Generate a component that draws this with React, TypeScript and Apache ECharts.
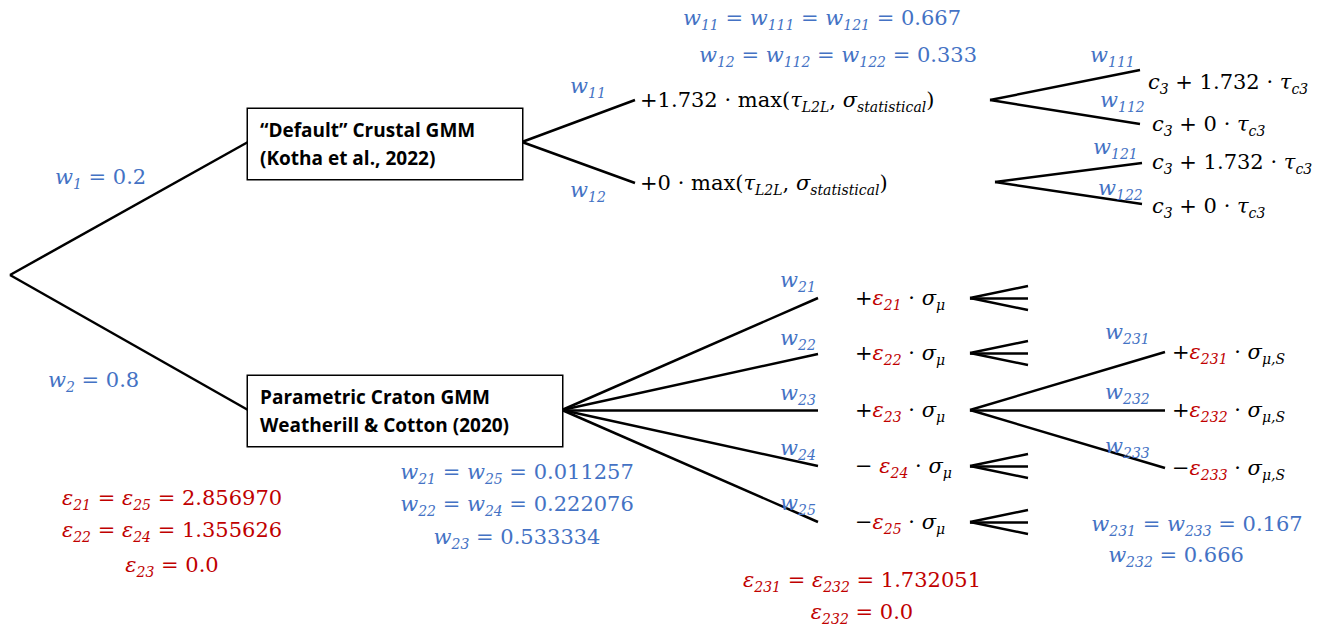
import React, { useEffect, useRef } from 'react';
import * as echarts from 'echarts';

const BLUE = '#4472C4';
const RED = '#C00000';
const BLACK = '#000000';

// branch segments [x1, y1, x2, y2]
const branches = [
  [10, 275, 248, 142], [10, 275, 248, 410],
  [522, 142, 635, 100], [522, 142, 635, 183],
  [990, 100, 1140, 70], [990, 100, 1140, 124],
  [995, 182, 1142, 163], [995, 182, 1142, 204],
  [562, 410, 818, 298], [562, 410, 818, 354], [562, 410, 818, 410],
  [562, 410, 818, 466], [562, 410, 818, 522],
  [970, 410, 1165, 352], [970, 410, 1165, 410], [970, 410, 1165, 468],
];
// small collapsed forks: tip y positions
const smallForks = [298, 353, 466, 522];
const smallDy = [-12, 0, 12];

// [x, y, text, colour, align]
const labels: [number, number, string, string, string][] = [
  [822, 18, 'w_{11} = w_{111} = w_{121} = 0.667', BLUE, 'center'],
  [838, 55, 'w_{12} = w_{112} = w_{122} = 0.333', BLUE, 'center'],
  [55, 177, 'w_{1} = 0.2', BLUE, 'left'],
  [48, 380, 'w_{2} = 0.8', BLUE, 'left'],
  [570, 86, 'w_{11}', BLUE, 'left'],
  [570, 190, 'w_{12}', BLUE, 'left'],
  [640, 100, '+1.732 · `max`(τ_{L2L}, σ_{statistical})', BLACK, 'left'],
  [640, 183, '+0 · `max`(τ_{L2L}, σ_{statistical})', BLACK, 'left'],
  [1090, 55, 'w_{111}', BLUE, 'left'],
  [1100, 100, 'w_{112}', BLUE, 'left'],
  [1093, 147, 'w_{121}', BLUE, 'left'],
  [1098, 188, 'w_{122}', BLUE, 'left'],
  [1148, 82, 'c_{3} + 1.732 · τ_{c3}', BLACK, 'left'],
  [1152, 124, 'c_{3} + 0 · τ_{c3}', BLACK, 'left'],
  [1152, 162, 'c_{3} + 1.732 · τ_{c3}', BLACK, 'left'],
  [1152, 206, 'c_{3} + 0 · τ_{c3}', BLACK, 'left'],
  [780, 280, 'w_{21}', BLUE, 'left'],
  [780, 338, 'w_{22}', BLUE, 'left'],
  [780, 393, 'w_{23}', BLUE, 'left'],
  [780, 448, 'w_{24}', BLUE, 'left'],
  [780, 503, 'w_{25}', BLUE, 'left'],
  [1105, 332, 'w_{231}', BLUE, 'left'],
  [1105, 392, 'w_{232}', BLUE, 'left'],
  [1105, 446, 'w_{233}', BLUE, 'left'],
  [172, 498, 'ε_{21} = ε_{25} = 2.856970', RED, 'center'],
  [172, 530, 'ε_{22} = ε_{24} = 1.355626', RED, 'center'],
  [172, 565, 'ε_{23} = 0.0', RED, 'center'],
  [517, 472, 'w_{21} = w_{25} = 0.011257', BLUE, 'center'],
  [517, 504, 'w_{22} = w_{24} = 0.222076', BLUE, 'center'],
  [517, 537, 'w_{23} = 0.533334', BLUE, 'center'],
  [862, 580, 'ε_{231} = ε_{232} = 1.732051', RED, 'center'],
  [862, 612, 'ε_{232} = 0.0', RED, 'center'],
  [1197, 524, 'w_{231} = w_{233} = 0.167', BLUE, 'center'],
  [1176, 555, 'w_{232} = 0.666', BLUE, 'center'],
];

// split-colour labels: [x, y, [[text, colour], ...]]
const mixed: [number, number, [string, string][]][] = [
  [855, 298, [['+', BLACK], ['ε_{21}', RED], [' · σ_{μ}', BLACK]]],
  [855, 353, [['+', BLACK], ['ε_{22}', RED], [' · σ_{μ}', BLACK]]],
  [855, 410, [['+', BLACK], ['ε_{23}', RED], [' · σ_{μ}', BLACK]]],
  [855, 466, [['− ', BLACK], ['ε_{24}', RED], [' · σ_{μ}', BLACK]]],
  [855, 522, [['−', BLACK], ['ε_{25}', RED], [' · σ_{μ}', BLACK]]],
  [1172, 352, [['+', BLACK], ['ε_{231}', RED], [' · σ_{μ,S}', BLACK]]],
  [1172, 410, [['+', BLACK], ['ε_{232}', RED], [' · σ_{μ,S}', BLACK]]],
  [1172, 468, [['−', BLACK], ['ε_{233}', RED], [' · σ_{μ,S}', BLACK]]],
];

// [x, y, text, width]
const boxes: [number, number, string, number][] = [
  [248, 144, '“Default” Crustal GMM\n(Kotha et al., 2022)', 250],
  [248, 411, 'Parametric Craton GMM\nWeatherill & Cotton (2020)', 290],
];

const colorKey: Record<string, string> = { [BLUE]: 'b', [RED]: 'r', [BLACK]: 'k' };

function toRich(str: string, color: string): string {
  const c = colorKey[color];
  let out = '';
  let i = 0;
  let buf = '';
  let type = '';
  const flush = () => { if (buf) out += `{${type}${c}|${buf}}`; buf = ''; };
  const push = (t: string, ch: string) => { if (t !== type) { flush(); type = t; } buf += ch; };
  while (i < str.length) {
    const ch = str[i];
    if (ch === '_' && str[i + 1] === '{') {
      const end = str.indexOf('}', i);
      flush();
      out += `{s${c}|${str.slice(i + 2, end)}}`;
      type = '';
      i = end + 1;
    } else if (ch === '`') {
      const end = str.indexOf('`', i + 1);
      flush();
      out += `{n${c}|${str.slice(i + 1, end)}}`;
      type = '';
      i = end + 1;
    } else {
      push(/[A-Za-zα-ωε]/.test(ch) ? 'i' : 'n', ch);
      i++;
    }
  }
  flush();
  return out;
}

const MATH = "'DejaVu Serif', 'Liberation Serif', serif";
const rich: Record<string, any> = {};
[[BLUE, 'b'], [RED, 'r'], [BLACK, 'k']].forEach(([col, k]) => {
  rich['n' + k] = { color: col, fontFamily: MATH, fontSize: 21, lineHeight: 30 };
  rich['i' + k] = { color: col, fontFamily: MATH, fontSize: 21, fontStyle: 'italic', lineHeight: 30 };
  rich['s' + k] = { color: col, fontFamily: MATH, fontSize: 14, fontStyle: 'italic', lineHeight: 30, padding: [14, 0, 0, 0] };
});

const App = () => {
  const chartRef = useRef<HTMLDivElement>(null);

  useEffect(() => {
    if (!chartRef.current) return;
    const chart = echarts.init(chartRef.current, null, { renderer: 'svg' });

    const segs = [...branches];
    smallForks.forEach((y) => smallDy.forEach((d) => segs.push([970, y, 1028, y + d])));

    const textData = [
      ...labels.map(([x, y, s, col, align]) => ({
        value: [x, y],
        label: { formatter: toRich(s, col), align },
      })),
      ...mixed.map(([x, y, parts]) => ({
        value: [x, y],
        label: { formatter: parts.map(([s, col]) => toRich(s, col)).join(''), align: 'left' },
      })),
    ];

    chart.setOption({
      animation: false,
      grid: { left: 0, right: 0, top: 0, bottom: 0 },
      xAxis: { type: 'value', min: 0, max: 1337, show: false },
      yAxis: { type: 'value', min: 0, max: 629, inverse: true, show: false },
      series: [
        {
          type: 'lines',
          coordinateSystem: 'cartesian2d',
          lineStyle: { color: '#000', width: 2.5, opacity: 1 },
          data: segs.map(([a, b, c, d]) => ({ coords: [[a, b], [c, d]] })),
          z: 1,
        },
        {
          type: 'scatter',
          symbolSize: 0,
          itemStyle: { opacity: 1 },
          data: textData,
          label: { show: true, position: 'inside', verticalAlign: 'middle', rich },
          z: 3,
        },
        {
          type: 'scatter',
          symbolSize: 0,
          itemStyle: { opacity: 1 },
          data: boxes.map(([x, y, s, w]) => ({ value: [x, y], label: { formatter: s, width: w } })),
          label: {
            show: true, position: 'inside', align: 'left', verticalAlign: 'middle',
            fontFamily: "'Open Sans', sans-serif", fontWeight: 'bold', fontSize: 19, lineHeight: 28,
            color: '#000', backgroundColor: '#fff', borderColor: '#000', borderWidth: 1.5,
            padding: [7, 12, 7, 12],
          },
          z: 4,
        },
      ],
    });

    return () => chart.dispose();
  }, []);

  return (
    <div ref={chartRef} style={{ position: 'absolute', left: 0, top: 0, width: '1337px', height: '629px', background: '#fff' }} />
  );
};

export default App;
